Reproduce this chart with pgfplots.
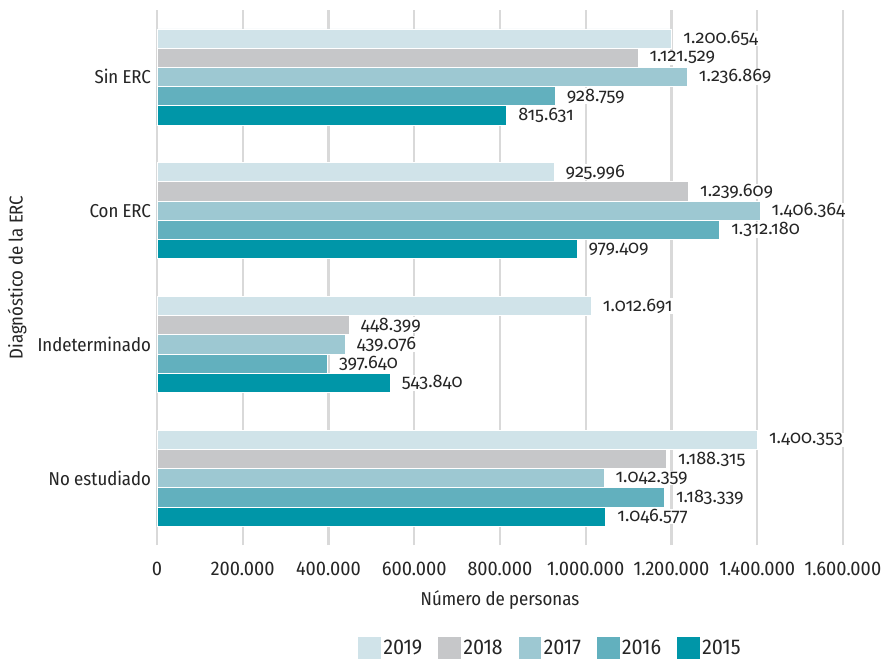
\documentclass[border=0pt]{standalone}
\usepackage{pgfplots}
\pgfplotsset{compat=1.18}
\usepackage{fontspec}
\setmainfont{Fira Sans Condensed}
\newfontfamily\valfont{Fira Sans}[Numbers=OldStyle]
\definecolor{c2019}{HTML}{D0E3E9}
\definecolor{c2018}{HTML}{C6C7C9}
\definecolor{c2017}{HTML}{9DC8D2}
\definecolor{c2016}{HTML}{62B0BE}
\definecolor{c2015}{HTML}{0096A8}
\definecolor{gridc}{HTML}{D9D9D9}
\begin{document}
\begin{tikzpicture}
\useasboundingbox (-117.75pt,-84.75pt) rectangle (552.75pt,408.75pt);
\begin{axis}[
  scale only axis,
  width=514.5pt, height=401.25pt,
  xbar=0pt, bar width=14.4pt,
  xmin=0, xmax=1600000,
  ymin=-0.5, ymax=3.5,
  xtick={0,200000,...,1600000},
  ytick={0,1,2,3},
  yticklabels={No estudiado,Indeterminado,Con ERC,Sin ERC},
  scaled x ticks=false,
  /pgf/number format/.cd, fixed, precision=0, 1000 sep={.}, assume math mode=true,
  /pgfplots/.cd,
  axis line style={draw=none},
  major tick length=0pt,
  xmajorgrids,
  grid style={gridc, line width=1.8pt},
  xticklabel style={font=\fontsize{14.8}{17}\selectfont, text=black!85, yshift=-9pt},
  yticklabel style={font=\fontsize{14}{17}\selectfont, text=black!85, xshift=-1pt},
  xlabel={Número de personas},
  ylabel={Diagnóstico de la ERC},
  label style={font=\fontsize{14}{16}\selectfont, text=black!85},
  xlabel style={at={(axis description cs:0.5,-0.1028)}, anchor=center},
  ylabel style={at={(axis description cs:-0.204,0.5)}, anchor=center},
  nodes near coords,
  every node near coord/.append style={font=\valfont\fontsize{13.6}{15}\selectfont, text=black!85, fill=white, inner sep=0.5pt, anchor=west, xshift=8pt},
  legend columns=5,
  reverse legend,
  legend style={at={(0.574,0)}, anchor=center, yshift=-77.25pt, draw=none,
    font=\fontsize{16}{18}\selectfont, text=black!85,
    /tikz/every even column/.append style={column sep=10pt}},
  legend image code/.code={\fill[#1,draw=none] (0pt,-8.5pt) rectangle (17pt,8pt);},
]
\addplot[fill=c2015, draw=white, line width=0.5pt] coordinates {(1046577,0) (543840,1) (979409,2) (815631,3)};
\addplot[fill=c2016, draw=white, line width=0.5pt] coordinates {(1183339,0) (397640,1) (1312180,2) (928759,3)};
\addplot[fill=c2017, draw=white, line width=0.5pt] coordinates {(1042359,0) (439076,1) (1406364,2) (1236869,3)};
\addplot[fill=c2018, draw=white, line width=0.5pt] coordinates {(1188315,0) (448399,1) (1239609,2) (1121529,3)};
\addplot[fill=c2019, draw=white, line width=0.5pt] coordinates {(1400353,0) (1012691,1) (925996,2) (1200654,3)};
\legend{2015,2016,2017,2018,2019}
\end{axis}
\end{tikzpicture}
\end{document}
